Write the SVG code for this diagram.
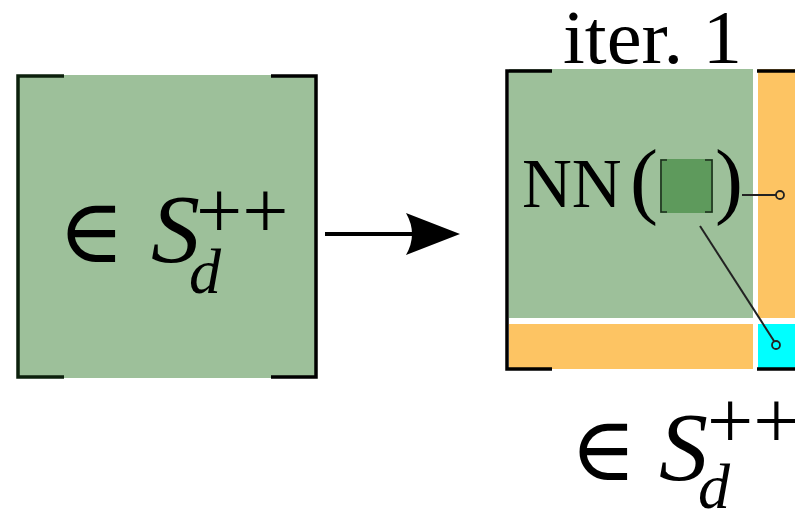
<svg xmlns="http://www.w3.org/2000/svg" width="795" height="513" viewBox="0 0 795 513">
<style>
.serif{font-family:"Liberation Serif","DejaVu Serif",serif;fill:#000}
.it{font-style:italic}
.br{fill:none;stroke:#000;stroke-width:3.5}
.lg{fill:#9DC09A}
.or{fill:#FDC463}
.cy{fill:#00FFFF}
.conn{fill:none;stroke:#222;stroke-width:2}
.dot{fill:none;stroke:#222;stroke-width:1.8}
</style>
<g id="input-matrix">
<rect class="lg" x="18" y="75" width="298" height="303"/>
<path class="br" d="M64,76 H18 V377 H64" style="stroke:#0c200c"/>
<path class="br" d="M271,76 H316 V377 H271"/>
<text class="serif"><tspan x="58" y="262" font-size="90">∈</tspan><tspan class="it" x="151" y="262" font-size="98">S</tspan><tspan x="196" y="238" font-size="82">++</tspan><tspan class="it" x="189" y="293" font-size="64">d</tspan></text>
</g>
<g id="iter1">
<text class="serif" x="563" y="63" font-size="77" textLength="179" lengthAdjust="spacingAndGlyphs">iter. 1</text>
<rect class="lg" x="509" y="69" width="244" height="249"/>
<rect class="or" x="758" y="69" width="40" height="249"/>
<rect class="or" x="509" y="324" width="244" height="45"/>
<rect class="cy" x="758" y="324" width="40" height="45"/>
<path class="br" d="M552,71 H507 V369 H552"/>
<path class="br" d="M757,71 H800 M757,369 H800"/>
<text class="serif"><tspan x="522" y="207" font-size="69">NN</tspan><tspan x="630" y="208" font-size="84">(</tspan><tspan x="715" y="208" font-size="84">)</tspan></text>
<g id="small-matrix">
<rect x="660" y="159" width="53" height="54" fill="#5E9A5C"/>
<path d="M667,160 H661 V212 H667 M705,160 H712 V212 H705" fill="none" stroke="#1a2a1a" stroke-width="1.5"/>
</g>
<text class="serif"><tspan x="570" y="480" font-size="90">∈</tspan><tspan class="it" x="659" y="480" font-size="98">S</tspan><tspan x="707" y="448" font-size="82">++</tspan><tspan class="it" x="698" y="508" font-size="64">d</tspan></text>
</g>
<g id="connectors">
<line x1="325" y1="234" x2="412" y2="234" stroke="#000" stroke-width="4"/>
<path d="M460,234 L406,213 Q418,234 406,255 Z" fill="#000"/>
<line class="conn" x1="742" y1="195" x2="776" y2="195"/>
<circle class="dot" cx="780" cy="195" r="4"/>
<line class="conn" x1="700" y1="226" x2="774" y2="341"/>
<circle class="dot" cx="776" cy="345" r="4"/>
</g>
</svg>
